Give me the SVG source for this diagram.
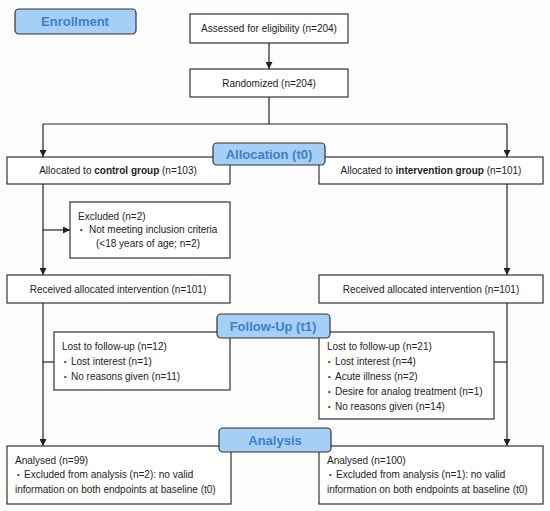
<svg xmlns="http://www.w3.org/2000/svg" width="550" height="511" viewBox="0 0 550 511">
<style>
text{font-family:"Liberation Sans",Arial,sans-serif;font-size:10px;fill:#222}
.box{fill:#fff;stroke:#333;stroke-width:1.2}
.lbl{fill:#a6cff7;stroke:#333;stroke-width:1.2}
.lt{font-size:13px;font-weight:bold;fill:#3d80c6;text-anchor:middle}
.c{text-anchor:middle}
.b{font-weight:bold}
.bu{font-size:7px}
.ln{fill:none;stroke:#222;stroke-width:1.2}
</style>
<defs>
<marker id="ah" viewBox="0 0 10 10" refX="10" refY="5" markerWidth="7" markerHeight="7" markerUnits="userSpaceOnUse" orient="auto">
<path d="M0,0 L10,5 L0,10 z" fill="#222"/>
</marker>
</defs>
<rect width="550" height="511" fill="#fcfcfc"/>
<g id="connectors">
<line class="ln" x1="269" y1="43" x2="269" y2="69" marker-end="url(#ah)"/>
<polyline class="ln" points="269,97 269,124"/>
<polyline class="ln" points="43,124 507,124"/>
<line class="ln" x1="43" y1="124" x2="43" y2="157" marker-end="url(#ah)"/>
<line class="ln" x1="507" y1="124" x2="507" y2="157" marker-end="url(#ah)"/>
<line class="ln" x1="43" y1="184" x2="43" y2="275" marker-end="url(#ah)"/>
<line class="ln" x1="43" y1="230" x2="70" y2="230" marker-end="url(#ah)"/>
<line class="ln" x1="507" y1="184" x2="507" y2="275" marker-end="url(#ah)"/>
<line class="ln" x1="43" y1="303" x2="43" y2="446" marker-end="url(#ah)"/>
<line class="ln" x1="43" y1="362" x2="54" y2="362"/>
<line class="ln" x1="507" y1="303" x2="507" y2="446" marker-end="url(#ah)"/>
<line class="ln" x1="494" y1="362" x2="507" y2="362"/>
</g>
<g id="enrollment"><rect class="lbl" x="15" y="9" width="121" height="25" rx="4"/><text class="lt" x="75" y="26">Enrollment</text></g>
<g id="assessed"><rect class="box" x="190" y="14" width="158" height="29"/><text class="c" x="269" y="32">Assessed for eligibility (n=204)</text></g>
<g id="randomized"><rect class="box" x="190" y="69" width="158" height="28"/><text class="c" x="269" y="87">Randomized (n=204)</text></g>
<g id="alloc-control"><rect class="box" x="7" y="157" width="223" height="27"/><text class="c" x="118" y="174">Allocated to <tspan class="b">control group</tspan> (n=103)</text></g>
<g id="alloc-intervention"><rect class="box" x="319" y="157" width="224" height="27"/><text class="c" x="431" y="174">Allocated to <tspan class="b">intervention group</tspan> (n=101)</text></g>
<g id="allocation"><rect class="lbl" x="213" y="143" width="112" height="22" rx="4"/><text class="lt" x="269" y="159">Allocation (t0)</text></g>
<g id="excluded"><rect class="box" x="70" y="202" width="160" height="56"/>
<text x="78" y="220">Excluded (n=2)</text>
<text class="bu" x="80" y="232">•</text><text x="89" y="233">Not meeting inclusion criteria</text>
<text x="96" y="247">(&lt;18 years of age; n=2)</text></g>
<g id="received-control"><rect class="box" x="7" y="275" width="223" height="28"/><text class="c" x="118" y="293">Received allocated intervention (n=101)</text></g>
<g id="received-intervention"><rect class="box" x="319" y="275" width="224" height="28"/><text class="c" x="431" y="293">Received allocated intervention (n=101)</text></g>
<g id="lost-control"><rect class="box" x="54" y="332" width="176" height="58"/>
<text x="62" y="350">Lost to follow-up (n=12)</text>
<text class="bu" x="64" y="364">•</text><text x="71" y="365">Lost interest (n=1)</text>
<text class="bu" x="64" y="379">•</text><text x="71" y="380">No reasons given (n=11)</text></g>
<g id="lost-intervention"><rect class="box" x="319" y="332" width="175" height="87"/>
<text x="327" y="350">Lost to follow-up (n=21)</text>
<text class="bu" x="328" y="364">•</text><text x="335" y="365">Lost interest (n=4)</text>
<text class="bu" x="328" y="379">•</text><text x="335" y="380">Acute illness (n=2)</text>
<text class="bu" x="328" y="394">•</text><text x="335" y="395">Desire for analog treatment (n=1)</text>
<text class="bu" x="328" y="409">•</text><text x="335" y="410">No reasons given (n=14)</text></g>
<g id="followup"><rect class="lbl" x="217" y="314" width="113" height="24" rx="4"/><text class="lt" x="273" y="331">Follow-Up (t1)</text></g>
<g id="analysed-control"><rect class="box" x="7" y="446" width="224" height="58"/>
<text x="15" y="464">Analysed (n=99)</text>
<text class="bu" x="17" y="477">•</text><text x="24" y="478">Excluded from analysis (n=2): no valid</text>
<text x="15" y="493">information on both endpoints at baseline (t0)</text></g>
<g id="analysed-intervention"><rect class="box" x="319" y="446" width="224" height="58"/>
<text x="327" y="464">Analysed (n=100)</text>
<text class="bu" x="329" y="477">•</text><text x="336" y="478">Excluded from analysis (n=1): no valid</text>
<text x="327" y="493">information on both endpoints at baseline (t0)</text></g>
<g id="analysis"><rect class="lbl" x="219" y="428" width="112" height="24" rx="4"/><text class="lt" x="275" y="445">Analysis</text></g>
</svg>
